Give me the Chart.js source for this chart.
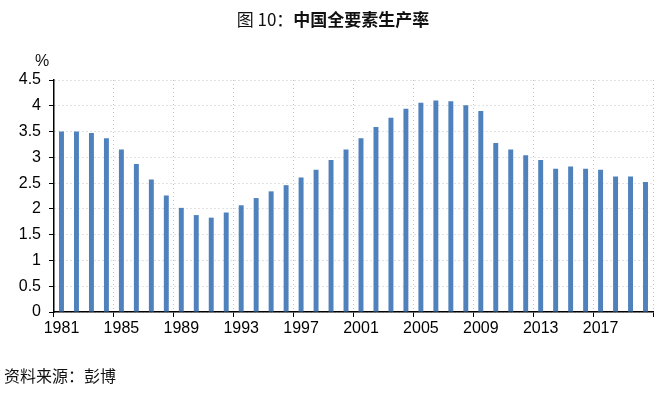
<!DOCTYPE html>
<html>
<head>
<meta charset="utf-8">
<script src="https://cdn.jsdelivr.net/npm/chart.js@4/dist/chart.umd.min.js"></script>
<style>
    html, body { margin: 0; padding: 0; background: #fff; }
    #wrap { position: relative; width: 666px; height: 393px; }
</style>
</head>
<body>
<div id="wrap"><canvas id="tfpChart" width="666" height="393"></canvas></div>
<script>
// dati (1981-2020)
const years = [];
for (let y = 1981; y <= 2020; y++) years.push(String(y));

const tfpValues = [
    3.50, 3.50, 3.47, 3.37, 3.15, 2.87, 2.57, 2.26, 2.02, 1.88,
    1.83, 1.93, 2.07, 2.21, 2.34, 2.46, 2.61, 2.76, 2.95, 3.15,
    3.37, 3.59, 3.77, 3.94, 4.06, 4.10, 4.09, 4.01, 3.90, 3.28,
    3.15, 3.04, 2.95, 2.78, 2.82, 2.78, 2.76, 2.63, 2.63, 2.52
];

const titlePrefix = '图 10：';
const titleText = '中国全要素生产率';
const unitLabel = '%';
const sourceText = '资料来源：彭博';

const BAR_COLOR = '#4f81bd';
const GRID_COLOR = '#c4c4c4';
const AXIS_FONT = "'Liberation Sans', Arial, sans-serif";
const CJK_FONT = "'Noto Sans CJK SC', sans-serif";

// testi fuori dal grafico: titolo, unità, fonte
const textPlugin = {
    id: 'extraText',
    afterDraw(chart) {
        const ctx = chart.ctx;
        ctx.save();
        ctx.fillStyle = '#111';
        ctx.textBaseline = 'middle';

        ctx.font = '17px ' + CJK_FONT;
        const w1 = ctx.measureText(titlePrefix).width;
        ctx.font = 'bold 17px ' + CJK_FONT;
        const w2 = ctx.measureText(titleText).width;
        let x = 333 - (w1 + w2) / 2;
        ctx.textAlign = 'left';
        ctx.font = '17px ' + CJK_FONT;
        ctx.fillText(titlePrefix, x, 20);
        ctx.font = 'bold 17px ' + CJK_FONT;
        ctx.fillText(titleText, x + w1, 20);

        ctx.font = '16px ' + AXIS_FONT;
        ctx.textAlign = 'center';
        ctx.fillText(unitLabel, 42, 62);

        ctx.font = '16px ' + CJK_FONT;
        ctx.textAlign = 'left';
        ctx.fillText(sourceText, 4, 376);
        ctx.restore();
    }
};

function every4(c) {
    return c.index === undefined || c.index % 4 === 0;
}

function initChart() {
    const ctx = document.getElementById('tfpChart').getContext('2d');
    new Chart(ctx, {
        type: 'bar',
        data: {
            labels: years,
            datasets: [{
                data: tfpValues,
                backgroundColor: BAR_COLOR,
                borderWidth: 0,
                barPercentage: 0.33,
                categoryPercentage: 1
            }]
        },
        options: {
            responsive: false,
            animation: false,
            layout: { padding: { left: 0, top: 80, right: 13, bottom: 51 } },
            plugins: { legend: { display: false }, tooltip: { enabled: false }, title: { display: false } },
            scales: {
                x: {
                    afterFit: s => { s.height = 30; },
                    grid: {
                        offset: true,
                        color: c => every4(c) ? GRID_COLOR : 'transparent',
                        tickColor: c => every4(c) ? '#000' : 'transparent',
                        tickLength: 5,
                        lineWidth: 1
                    },
                    border: { color: '#000', width: 1.5, dash: [1, 3] },
                    ticks: {
                        autoSkip: false,
                        maxRotation: 0,
                        padding: 2,
                        color: '#000',
                        font: { family: AXIS_FONT, size: 16 },
                        callback: (v, i) => i % 4 === 0 ? years[i] : ''
                    }
                },
                y: {
                    min: 0,
                    max: 4.5,
                    afterFit: s => { s.width = 54; },
                    grid: { color: GRID_COLOR, tickColor: '#000', tickLength: 5, lineWidth: 1 },
                    border: { color: '#000', width: 1.5, dash: [1, 3] },
                    ticks: {
                        stepSize: 0.5,
                        padding: 8,
                        color: '#000',
                        font: { family: AXIS_FONT, size: 16 },
                        callback: v => String(v)
                    }
                }
            }
        },
        plugins: [textPlugin]
    });
}

window.onload = initChart;
</script>
</body>
</html>
